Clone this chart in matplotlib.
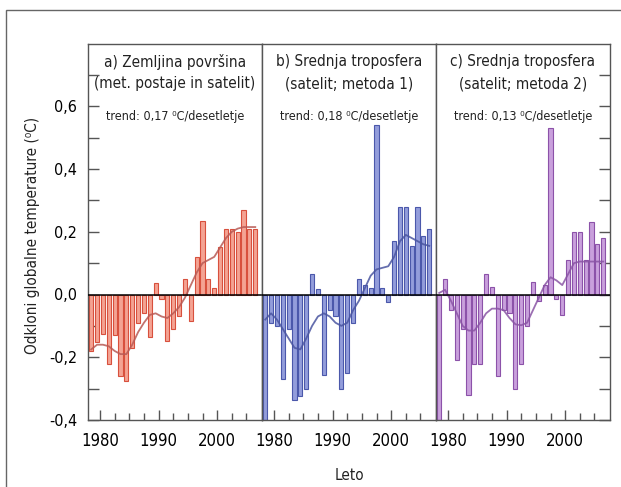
import matplotlib
matplotlib.use("Agg")
import matplotlib.pyplot as plt
from matplotlib.ticker import FixedLocator, FuncFormatter
from matplotlib.patches import Rectangle

# condensed DejaVu looks closest to the narrow font in the original
plt.rcParams['font.family'] = ['DejaVu Sans']
plt.rcParams['font.stretch'] = 'condensed'

# annual anomalies, one bar per year
years = list(range(1978, 2007))

surface = [-0.18, -0.15, -0.127, -0.223, -0.13, -0.26, -0.276, -0.17, -0.09, -0.06,
           -0.137, 0.038, -0.015, -0.148, -0.11, -0.07, 0.05, -0.085, 0.12, 0.235,
           0.05, 0.02, 0.15, 0.21, 0.21, 0.20, 0.27, 0.21, 0.21]
surface_smooth = [-0.175, -0.16, -0.16, -0.165, -0.18, -0.19, -0.19, -0.16, -0.12, -0.09,
                  -0.065, -0.06, -0.07, -0.075, -0.06, -0.04, -0.01, 0.03, 0.07, 0.10,
                  0.11, 0.12, 0.15, 0.18, 0.20, 0.21, 0.215, 0.215, 0.215]

tropo1 = [-0.40, -0.09, -0.10, -0.27, -0.11, -0.335, -0.325, -0.30, 0.064, 0.016,
          -0.256, -0.05, -0.07, -0.30, -0.25, -0.09, 0.05, 0.03, 0.02, 0.54,
          0.02, -0.025, 0.17, 0.28, 0.28, 0.155, 0.28, 0.185, 0.21]
tropo1_smooth = [-0.08, -0.06, -0.08, -0.11, -0.14, -0.17, -0.175, -0.14, -0.10, -0.07,
                 -0.06, -0.07, -0.09, -0.10, -0.09, -0.05, -0.02, 0.02, 0.06, 0.08,
                 0.085, 0.09, 0.12, 0.17, 0.19, 0.18, 0.17, 0.16, 0.155]

tropo2 = [-0.40, 0.05, -0.05, -0.21, -0.11, -0.32, -0.22, -0.22, 0.065, 0.025,
          -0.26, -0.05, -0.06, -0.30, -0.22, -0.10, 0.04, -0.02, 0.03, 0.53,
          -0.015, -0.065, 0.11, 0.20, 0.20, 0.11, 0.23, 0.16, 0.18]
tropo2_smooth = [0.005, 0.015, -0.02, -0.06, -0.10, -0.115, -0.115, -0.09, -0.06, -0.045,
                 -0.045, -0.05, -0.075, -0.095, -0.098, -0.09, -0.05, -0.01, 0.03, 0.055,
                 0.045, 0.03, 0.065, 0.10, 0.105, 0.105, 0.105, 0.105, 0.105]

titles = [("a) Zemljina površina", "(met. postaje in satelit)"),
          ("b) Srednja troposfera", "(satelit; metoda 1)"),
          ("c) Srednja troposfera", "(satelit; metoda 2)")]
trends = ["0,17", "0,18", "0,13"]

panels = [
    (surface, surface_smooth, "#f4a393", "#d8503d", "#b85a55"),
    (tropo1, tropo1_smooth, "#939ddb", "#4b58ab", "#4a55a0"),
    (tropo2, tropo2_smooth, "#c9a0dc", "#8c52a9", "#8a55a5"),
]

W, H = 621, 487
fig = plt.figure(figsize=(W / 100, H / 100), dpi=100)

# outer frame (right and bottom edges run off the picture)
fig.patches.append(Rectangle((6 / W, -0.1), 1.2, 1 - 10 / H + 0.1,
                             transform=fig.transFigure, fill=False,
                             edgecolor="#666666", linewidth=1))

left0, top, bottom = 88, 43.5, 420
pw = 174
x_pos = [y + 0.5 for y in years]

for i, (vals, smooth, face, edge, lcol) in enumerate(panels):
    ax = fig.add_axes([(left0 + i * pw) / W, 1 - bottom / H, pw / W, (bottom - top) / H])
    ax.bar(x_pos, vals, width=0.7, color=face, edgecolor=edge, linewidth=0.8, zorder=2)
    ax.plot(x_pos, smooth, color=lcol, linewidth=1.3, alpha=0.85, zorder=3)
    ax.axhline(0, color="black", linewidth=1.1, zorder=4)
    ax.set_xlim(1977.95, 2007.65)
    ax.set_ylim(-0.4, 0.8)

    for s in ax.spines.values():
        s.set_color("#555555")
        s.set_linewidth(1)

    ax.xaxis.set_major_locator(FixedLocator([1980, 1990, 2000]))
    ax.xaxis.set_minor_locator(FixedLocator([1982.5, 1985, 1987.5, 1992.5, 1995,
                                             1997.5, 2002.5, 2005]))
    ax.tick_params(axis="x", which="major", direction="in", length=7, width=1,
                   color="#555555", labelsize=12, pad=9)
    ax.tick_params(axis="x", which="minor", direction="in", length=5, width=1,
                   color="#555555")

    yt = [-0.4, -0.2, 0.0, 0.2, 0.4, 0.6]
    ym = [-0.3, -0.1, 0.1, 0.3, 0.5, 0.7]
    if i == 0:
        ax.yaxis.set_major_locator(FixedLocator(yt))
        ax.yaxis.set_minor_locator(FixedLocator(ym))
        ax.yaxis.set_major_formatter(FuncFormatter(lambda v, p: f"{v:.1f}".replace(".", ",")))
        ax.tick_params(axis="y", which="both", direction="in", length=8, width=1,
                       color="#555555", labelsize=11.5, pad=8)
    elif i == 2:
        ax.yaxis.tick_right()
        ax.yaxis.set_major_locator(FixedLocator(yt))
        ax.yaxis.set_minor_locator(FixedLocator(ym))
        ax.tick_params(axis="y", which="both", direction="in", length=8, width=1,
                       color="#555555", labelright=False)
    else:
        ax.set_yticks([])

    ax.text(0.5, 0.951, titles[i][0], transform=ax.transAxes, ha="center", va="center",
            fontsize=11, color="#222222")
    ax.text(0.5, 0.893, titles[i][1], transform=ax.transAxes, ha="center", va="center",
            fontsize=11, color="#222222")
    ax.text(0.5, 0.805, f"trend: {trends[i]} ⁰C/desetletje", transform=ax.transAxes,
            ha="center", va="center", fontsize=9, color="#222222")

fig.text(33 / W, 1 - 235 / H, "Odkloni globalne temperature (⁰C)", rotation=90,
         ha="center", va="center", fontsize=11, color="#222222")
fig.text(349 / W, 1 - 475 / H, "Leto", ha="center", va="center", fontsize=11,
         color="#222222")

fig.savefig("out.png", dpi=100)
